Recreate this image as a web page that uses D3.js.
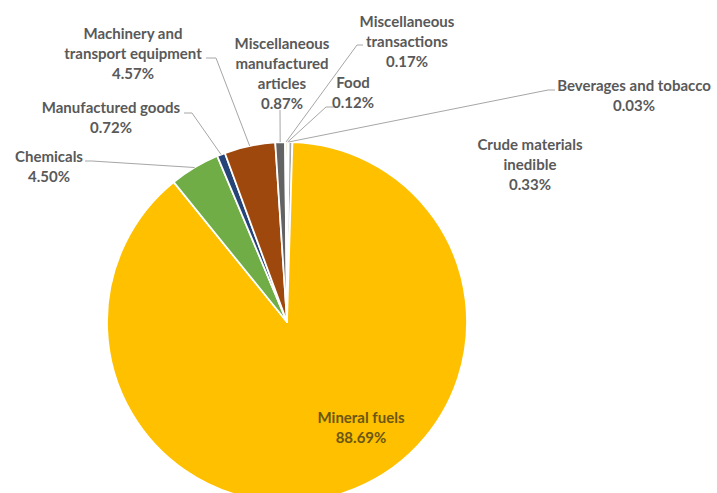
<!DOCTYPE html>
<html>
<head>
<meta charset="utf-8">
<script src="https://cdn.jsdelivr.net/npm/d3@7"></script>
<style>
  html, body { margin: 0; padding: 0; background: #ffffff; }
  svg { display: block; }
  text { font-family: Lato, "Open Sans", sans-serif; font-weight: 700; }
</style>
</head>
<body>
<svg id="chart" width="717" height="493"></svg>
<script>
// ---- data ----
const categories = [
  "Food",
  "Beverages and tobacco",
  "Crude materials inedible",
  "Mineral fuels",
  "Chemicals",
  "Manufactured goods",
  "Machinery and transport equipment",
  "Miscellaneous manufactured articles",
  "Miscellaneous transactions"
];
const values = [0.12, 0.03, 0.33, 88.69, 4.50, 0.72, 4.57, 0.87, 0.17];
const valueLabels = ["0.12%", "0.03%", "0.33%", "88.69%", "4.50%", "0.72%", "4.57%", "0.87%", "0.17%"];
// label lines as displayed
const labelLines = [
  ["Food"],
  ["Beverages and tobacco"],
  ["Crude materials", "inedible"],
  ["Mineral fuels"],
  ["Chemicals"],
  ["Manufactured goods"],
  ["Machinery and", "transport equipment"],
  ["Miscellaneous", "manufactured", "articles"],
  ["Miscellaneous", "transactions"]
];

// ---- styles / layout ----
const colors = ["#4472C4", "#ED7D31", "#A5A5A5", "#FFC000", "#70AD47", "#264478", "#9E480E", "#636363", "#997300"];
const cx = 287, cy = 322, radius = 180;
const lineH = 20;
// label layout: center x, first baseline y, leader (start point, elbow point) or null
const layout = [
  { x: 353, y: 88,  lead: [[334, 107], [326, 107]], color: "#595959" },
  { x: 634, y: 91,  lead: [[555, 90], [548, 90]], color: "#595959" },
  { x: 530, y: 150, lead: null, color: "#595959" },
  { x: 361, y: 423, lead: null, color: "#6b5714" },
  { x: 49,  y: 162, lead: [[85, 161], [92, 161]], color: "#595959" },
  { x: 111, y: 113, lead: [[184, 113], [192, 113]], color: "#595959" },
  { x: 133, y: 39,  lead: [[206, 58], [216, 58]], color: "#595959" },
  { x: 282, y: 49,  lead: [[280, 110], [280, 111]], color: "#595959" },
  { x: 407, y: 27,  lead: [[363, 45], [357, 45]], color: "#595959" }
];

const svg = d3.select("#chart");
const pie = d3.pie().sort(null).value(d => d)
  .startAngle(0).endAngle(2 * Math.PI);
const arcs = pie(values);
const arc = d3.arc().innerRadius(0).outerRadius(radius);
const edgeArc = d3.arc().innerRadius(radius).outerRadius(radius);

const g = svg.append("g").attr("transform", `translate(${cx},${cy})`);
g.selectAll("path.slice")
  .data(arcs)
  .join("path")
  .attr("class", "slice")
  .attr("d", arc)
  .attr("fill", (d, i) => colors[i])
  .attr("stroke", "#ffffff")
  .attr("stroke-width", 1.75)
  .attr("stroke-linejoin", "round");

// leader lines
const leaders = svg.append("g");
arcs.forEach((d, i) => {
  const L = layout[i];
  if (!L.lead) return;
  const c = edgeArc.centroid(d);
  const end = [cx + c[0], cy + c[1]];
  const pts = [L.lead[0], L.lead[1], end];
  leaders.append("path")
    .attr("d", d3.line()(pts))
    .attr("fill", "none")
    .attr("stroke", "#a6a6a6")
    .attr("stroke-width", 1);
});

// labels
const labels = svg.append("g");
arcs.forEach((d, i) => {
  const L = layout[i];
  const lines = labelLines[i].concat([valueLabels[i]]);
  const t = labels.append("text")
    .attr("text-anchor", "middle")
    .attr("font-size", 15)
    .attr("fill", L.color);
  lines.forEach((s, k) => {
    t.append("tspan").attr("x", L.x).attr("y", L.y + k * lineH).text(s);
  });
});
</script>
</body>
</html>
